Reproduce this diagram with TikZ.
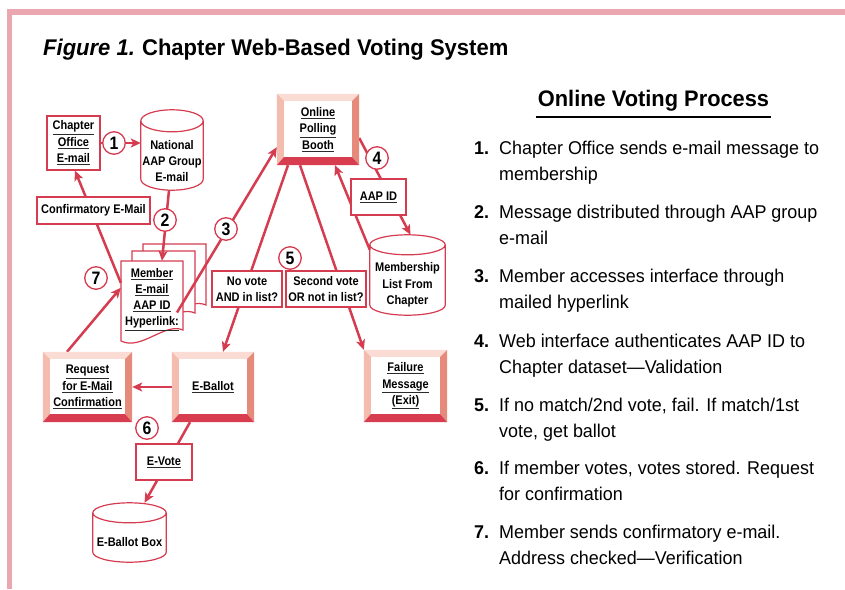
\documentclass[tikz,border=0pt]{standalone}
\usepackage{fontspec}
\setmainfont{Liberation Sans}[FakeStretch=0.88]
\newfontfamily\widefont{Liberation Sans}[FakeStretch=0.97]
\usetikzlibrary{arrows.meta,backgrounds,calc}
\definecolor{crim}{HTML}{D63C50}
\definecolor{framepink}{HTML}{EBA7B0}
\definecolor{bvtop}{HTML}{FADCD4}
\definecolor{bvleft}{HTML}{F4BCAE}
\definecolor{bvright}{HTML}{E68B7B}
\definecolor{bvbot}{HTML}{D83D4F}
\definecolor{ulgray}{HTML}{2A2A2A}
\newcommand\ulx[1]{\setbox0\hbox{#1}\leavevmode\rlap{\color{ulgray}\rule[\dimexpr-\dp0-2.4pt\relax]{\wd0}{1pt}}\box0}
\newcommand\bevelframe[1]{%
  \fill[bvtop] (#1.north west) -- (#1.north east) -- ([shift={(-7pt,-7pt)}]#1.north east) -- ([shift={(7pt,-7pt)}]#1.north west) -- cycle;
  \fill[bvleft] (#1.north west) -- ([shift={(7pt,-7pt)}]#1.north west) -- ([shift={(7pt,8pt)}]#1.south west) -- (#1.south west) -- cycle;
  \fill[bvright] (#1.north east) -- ([shift={(-7pt,-7pt)}]#1.north east) -- ([shift={(-7pt,8pt)}]#1.south east) -- (#1.south east) -- cycle;
  \fill[bvbot] (#1.south west) -- ([shift={(7pt,8pt)}]#1.south west) -- ([shift={(-7pt,8pt)}]#1.south east) -- (#1.south east) -- cycle;}
\newcommand\cylframe[2]{%
  \draw[cylline] let \p1=(#1.north west), \p2=(#1.north east), \n1={(\x2-\x1)/2} in
   ([yshift=#2]#1.north west) -- ([yshift=#2]#1.south west)
   arc[start angle=180,end angle=360,x radius=\n1,y radius=#2]
   -- ([yshift=#2]#1.north east)
   arc[start angle=0,end angle=360,x radius=\n1,y radius=#2];}
\newcommand\docshape[5]{%
  \filldraw[fill=white, draw=crim, line width=1.2pt] (#1,#2) -- (#3,#2) -- (#3,#5)
   .. controls (#3-18,#5-8) and (#1+20,#4+10) .. (#1,#4) -- cycle;}
\tikzset{
  tx/.style={font=\fontsize{12.5}{16.3}\selectfont\bfseries, align=center, text=black},
  lbl/.style={tx, draw=crim, line width=1.2pt, fill=white, inner sep=0pt},
  bev/.style={tx, inner sep=0pt, fill=white},
  plain/.style={tx, inner sep=0pt},
  cylline/.style={draw=crim, line width=1.2pt},
  num/.style={circle, draw=crim, line width=1.3pt, fill=white, minimum size=22.5pt, inner sep=0pt, font=\fontsize{18}{18}\selectfont\bfseries},
  arr/.style={draw=crim, line width=2.5pt, -{Stealth[length=10pt,width=9pt,inset=2.5pt]}},
  itemnum/.style={anchor=base west, font=\widefont\fontsize{18.5}{22}\selectfont\bfseries, inner sep=0pt},
  itemtxt/.style={anchor=base west, font=\widefont\fontsize{18.5}{22}\selectfont, inner sep=0pt},
}
\begin{document}
\begin{tikzpicture}[x=1pt,y=-1pt]
\useasboundingbox (0,0) rectangle (845,589);
% frame
\fill[framepink] (7,9) rectangle (845,15);
\fill[framepink] (7,9) rectangle (12,589);
% title
\node[anchor=base west, inner sep=0pt, font=\widefont\fontsize{22.7}{22.7}\selectfont\bfseries] (title) at (43,55) {\textit{Figure 1.}\hspace{-1pt} Chapter Web-Based Voting System};
\node[anchor=base, inner sep=0pt, font=\widefont\fontsize{22.5}{22.5}\selectfont\bfseries] (head) at (653.5,106) {Online Voting Process};
\draw[line width=2.2pt] ([shift={(-2pt,-11pt)}]head.base west) -- ([shift={(2pt,-11pt)}]head.base east);
% list
\node[itemnum] (n1) at (474,154) {1.};
\node[itemtxt] (t1a) at (499,154) {Chapter Office sends e-mail message to};
\node[itemtxt] (t1b) at (499,180.5) {membership};
\node[itemnum] (n2) at (474,218) {2.};
\node[itemtxt] (t2a) at (499,218) {Message distributed through AAP group};
\node[itemtxt] (t2b) at (499,244.5) {e-mail};
\node[itemnum] (n3) at (474,282) {3.};
\node[itemtxt] (t3a) at (499,282) {Member accesses interface through};
\node[itemtxt] (t3b) at (499,308.5) {mailed hyperlink};
\node[itemnum] (n4) at (474,347) {4.};
\node[itemtxt] (t4a) at (499,347) {Web interface authenticates AAP ID to};
\node[itemtxt] (t4b) at (499,373.5) {Chapter dataset—Validation};
\node[itemnum] (n5) at (474,411) {5.};
\node[itemtxt] (t5a) at (499,411) {If no match/2nd vote, fail. If match/1st};
\node[itemtxt] (t5b) at (499,437.5) {vote, get ballot};
\node[itemnum] (n6) at (474,474) {6.};
\node[itemtxt] (t6a) at (499,474) {If member votes, votes stored. Request};
\node[itemtxt] (t6b) at (499,500.5) {for confirmation};
\node[itemnum] (n7) at (474,538) {7.};
\node[itemtxt] (t7a) at (499,538) {Member sends confirmatory e-mail.};
\node[itemtxt] (t7b) at (499,564.5) {Address checked—Verification};
% diagram nodes
\node[lbl, minimum width=53pt, minimum height=54pt] (chapter) at (73.5,143) {\ulx{Chapter}\\\ulx{Office}\\\ulx{E-mail}};
\node[plain, minimum width=62pt, minimum height=58pt] (natl) at (172,161) {National\\AAP Group\\E-mail};
\cylframe{natl}{11pt}
\node[plain, minimum width=75pt, minimum height=60pt] (memb) at (407.5,285) {Membership\\List From\\Chapter};
\cylframe{memb}{10pt}
\node[plain, minimum width=73pt, minimum height=39pt] (ebox) at (129.5,542.5) {E-Ballot Box};
\cylframe{ebox}{10pt}
\node[bev, minimum width=82pt, minimum height=71pt] (booth) at (318,129.5) {\ulx{Online}\\\ulx{Polling}\\\ulx{Booth}};
\bevelframe{booth}
\node[bev, minimum width=82pt, minimum height=70pt] (eballot) at (213,387) {\ulx{E-Ballot}};
\bevelframe{eballot}
\node[bev, minimum width=83pt, minimum height=72pt] (failure) at (405.5,386) {\ulx{Failure}\\\ulx{Message}\\\ulx{(Exit)}};
\bevelframe{failure}
\node[bev, minimum width=89pt, minimum height=70pt] (request) at (87.5,387) {\ulx{Request}\\\ulx{for E-Mail}\\\ulx{Confirmation}};
\bevelframe{request}
\node[lbl, minimum width=55pt, minimum height=36pt] (aapid) at (378.5,197) {\ulx{AAP ID}};
\node[lbl, minimum width=70pt, minimum height=36pt] (novote) at (247,289) {No vote\\AND in list?};
\node[lbl, minimum width=80pt, minimum height=36pt] (second) at (326,289) {Second vote\\OR not in list?};
\node[lbl, minimum width=56pt, minimum height=36pt] (evote) at (164,462) {\ulx{E-Vote}};
\node[lbl, minimum width=113pt, minimum height=27pt] (confirm) at (93.5,210.5) {Confirmatory E-Mail};
\node[plain, minimum width=62pt, minimum height=77pt] (member) at (152,299.5) {\ulx{Member}\\\ulx{E-mail}\\\ulx{AAP ID}\\\ulx{Hyperlink:}};
% background: documents and most connectors
\begin{scope}[on background layer]
  \fill[white] (0,0) rectangle (845,589);
  \docshape{143}{244}{206}{314}{305}
  \docshape{132}{251}{195}{322}{313}
  \docshape{121}{261}{183}{341}{330}
  \draw[arr] (chapter.east) -- (chapter.east -| natl.west);
  \draw[arr] ([yshift=-8.5pt]booth.east) -- ([shift={(3pt,20pt)}]memb.north);
  \draw[arr] ([yshift=5pt]memb.north west) -- ([xshift=17pt]booth.south);
  \draw[arr] ([xshift=-30pt]booth.south) -- ([xshift=10pt]eballot.north);
  \draw[arr] ([xshift=-18pt]booth.south) -- (failure.north west);
  \draw[arr] (eballot.west) -- (request.east);
  \draw[arr] ([xshift=-23pt]eballot.south) -- ([shift={(15pt,20pt)}]ebox.north);
  \draw[arr] ([xshift=-20.5pt]request.north) -- ([yshift=-27pt]member.north west);
  \draw[arr] ([yshift=-22pt]member.north west) -- ([xshift=1.5pt]chapter.south);
\end{scope}
% connectors over the documents
\draw[arr] ([xshift=-3pt]natl.south) -- ([xshift=10pt]member.north);
\draw[arr] ([shift={(25pt,-13pt)}]member.center) -- ([yshift=18pt]booth.south west);
% step numbers
\node[num] (c1) at (114,143) {1};
\node[num] (c2) at (165,220) {2};
\node[num] (c3) at (226,229) {3};
\node[num] (c4) at (377,158) {4};
\node[num] (c5) at (290,258) {5};
\node[num] (c6) at (147,428) {6};
\node[num] (c7) at (96,278) {7};
\end{tikzpicture}
\end{document}
